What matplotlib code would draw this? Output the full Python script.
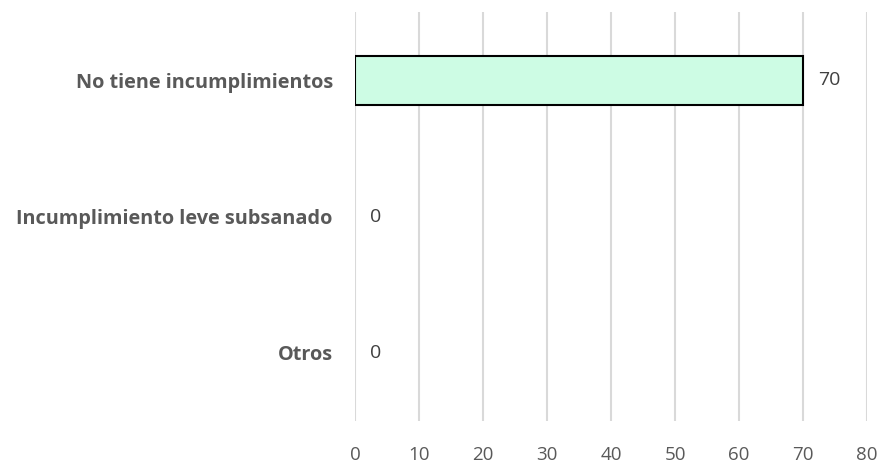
import matplotlib.pyplot as plt

categories = ['No tiene incumplimientos', 'Incumplimiento leve subsanado', 'Otros']
values = [70, 0, 0]
xticks = [0, 10, 20, 30, 40, 50, 60, 70, 80]

plt.rcParams['font.family'] = ['Open Sans', 'DejaVu Sans']
text_color = '#595959'

fig = plt.figure(figsize=(8.89, 4.74), dpi=100)
ax = fig.add_axes([355 / 889, 1 - 421 / 474, 512 / 889, 409 / 474])

pos = list(range(len(categories)))[::-1]
bars = ax.barh(pos, values, height=0.36, color='#CDFCE4', edgecolor='black', linewidth=1.5, zorder=3)
for b, v in zip(bars, values):
    if v == 0:
        b.set_linewidth(0)

for p, v in zip(pos, values):
    ax.annotate(str(v), (v, p), xytext=(11, 0), textcoords='offset points',
                va='center', ha='left', fontsize=14, color='#404040')

ax.set_xlim(0, 80)
ax.set_ylim(-0.5, len(categories) - 0.5)
ax.set_xticks(xticks)
ax.set_xticklabels([str(t) for t in xticks], fontsize=13.5, color=text_color)
ax.set_yticks(pos)
ax.set_yticklabels(categories, fontsize=14.3, fontweight='bold', color=text_color)
ax.tick_params(axis='x', length=0, pad=18)
ax.tick_params(axis='y', length=0, pad=16)

ax.grid(axis='x', color='#D9D9D9', linewidth=1.5, zorder=0)
for s in ax.spines.values():
    s.set_visible(False)

fig.savefig('out.png', dpi=100)
